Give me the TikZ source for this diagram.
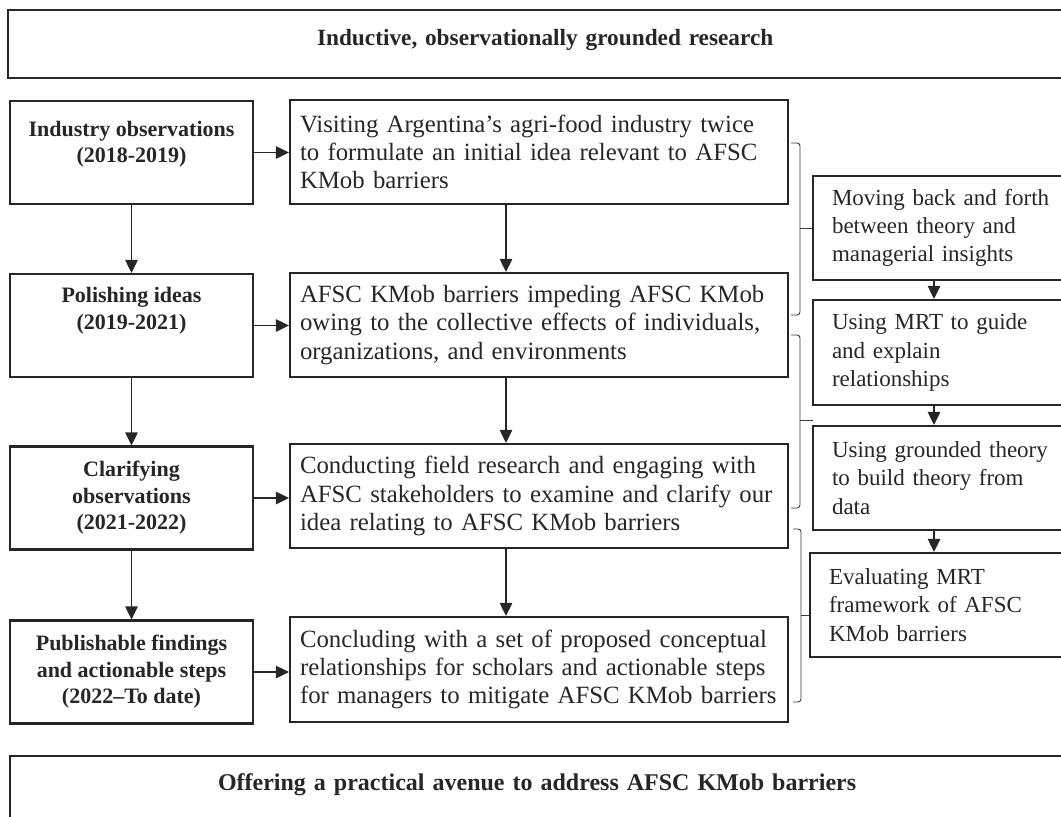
\documentclass[tikz,border=0pt]{standalone}
\usepackage{fontspec}
\setmainfont{Liberation Serif}
\usetikzlibrary{arrows.meta,calc}
\definecolor{ink}{HTML}{262626}
\definecolor{brgray}{HTML}{3A3A3A}

\begin{document}
\begin{tikzpicture}[x=1pt,y=-1pt,
  frame/.style={draw=ink, line width=2.2pt, text=ink, inner ysep=0pt},
  phase/.style={frame, font=\fontsize{22}{26.5}\selectfont\bfseries, align=center,
    minimum width=243pt, minimum height=103pt},
  activity/.style={frame, font=\fontsize{24.8}{28.3}\selectfont, text width=478pt,
    inner xsep=10pt, align=left, minimum height=104pt},
  method/.style={frame, font=\fontsize{23}{28.3}\selectfont, text width=249pt,
    inner xsep=19pt, align=left, minimum height=104pt},
  flow/.style={draw=ink, line width=1.2pt, -{Triangle[length=13pt,width=12.5pt]}},
  bracket/.style={draw=brgray, line width=0.9pt, rounded corners=3pt},
]
\useasboundingbox (0,0) rectangle (1061,817);
\clip (0,0) rectangle (1061,817);

% header and footer bands
\node[frame, font=\fontsize{23.3}{28}\selectfont\bfseries, text width=474pt,
  inner xsep=309pt, align=left, minimum height=68pt, text height=17pt, text depth=15pt]
  (head) at (554,44) {Inductive, observationally grounded research};
\node[frame, font=\fontsize{24}{28}\selectfont\bfseries, text width=674pt,
  inner xsep=208pt, align=left, minimum height=94pt, text height=17pt, text depth=43pt]
  (foot) at (555,803) {Offering a practical avenue to address AFSC KMob barriers};

% phases
\node[phase] (b1) at (131.5,152.5) {Industry observations\\(2018-2019)\\[-13pt]\strut};
\node[phase] (b2) at (131.5,325.5) {Polishing ideas\\(2019-2021)\\\strut};
\node[phase] (b3) at (131.5,498) {Clarifying\\observations\\(2021-2022)};
\node[phase] (b4) at (131.5,672) {Publishable findings\\and actionable steps\\(2022--To date)};

% activities
\node[activity] (A) at (539,152) {Visiting Argentina's agri-food industry twice\\to formulate an initial idea relevant to AFSC\\KMob barriers};
\node[activity] (B) at (539,325) {AFSC KMob barriers impeding AFSC KMob\\owing to the collective effects of individuals,\\organizations, and environments};
\node[activity] (C) at (539,496) {Conducting field research and engaging with\\AFSC stakeholders to examine and clarify our\\idea relating to AFSC KMob barriers};
\node[activity, minimum height=105pt] (D) at (539,669.5) {Concluding with a set of proposed conceptual\\relationships for scholars and actionable steps\\for managers to mitigate AFSC KMob barriers};

% methods
\node[method] (R1) at (956.5,228) {Moving back and forth\\between theory and\\managerial insights};
\node[method, minimum height=105pt] (R2) at (956.5,352.5) {Using MRT to guide\\and explain\\relationships};
\node[method] (R3) at (956.5,478) {Using grounded theory\\to build theory from\\data};
\node[method] (R4) at (953.5,605) {Evaluating MRT\\framework of AFSC\\KMob barriers};

% timeline arrows
\draw[flow] (b1.south) -- (b2.north);
\draw[flow] (b2.south) -- (b3.north);
\draw[flow] (b3.south) -- (b4.north);

\draw[flow] (b1.east) -- (b1.east -| A.west);
\draw[flow] (b2.east) -- (b2.east -| B.west);
\draw[flow] (b3.east) -- (b3.east -| C.west);
\draw[flow] (b4.east) -- (b4.east -| D.west);

\draw[flow] ([xshift=-33pt]A.south) -- ([xshift=-33pt]B.north);
\draw[flow] ([xshift=-33pt]B.south) -- ([xshift=-33pt]C.north);
\draw[flow] ([xshift=-33pt]C.south) -- ([xshift=-33pt]D.north);

\coordinate (rx) at (934,0);
\draw[flow] (R1.south -| rx) -- (R2.north -| rx);
\draw[flow] (R2.south -| rx) -- (R3.north -| rx);
\draw[flow] (R3.south -| rx) -- (R4.north -| rx);

% brackets grouping the activities
\coordinate (k1t) at (791,143);
\coordinate (k1b) at (791,315);
\coordinate (k1v) at (800,228);
\draw[bracket] (k1t) -- (k1t -| k1v) -- (k1b -| k1v) -- (k1b);
\draw[bracket] (k1v) -- (R1.west);

\coordinate (k2t) at (791,335);
\coordinate (k2b) at (791,508);
\coordinate (k2v) at (800,420);
\coordinate (k2p) at (813,420);
\draw[bracket] (k2t) -- (k2t -| k2v) -- (k2b -| k2v) -- (k2b);
\draw[bracket] (k2v) -- (k2p);

\coordinate (k3t) at (793,529);
\coordinate (k3b) at (793,702);
\coordinate (k3v) at (801,615);
\draw[bracket] (k3t) -- (k3t -| k3v) -- (k3b -| k3v) -- (k3b);
\draw[bracket] (k3v) -- (k3v -| R4.west);
\end{tikzpicture}
\end{document}
